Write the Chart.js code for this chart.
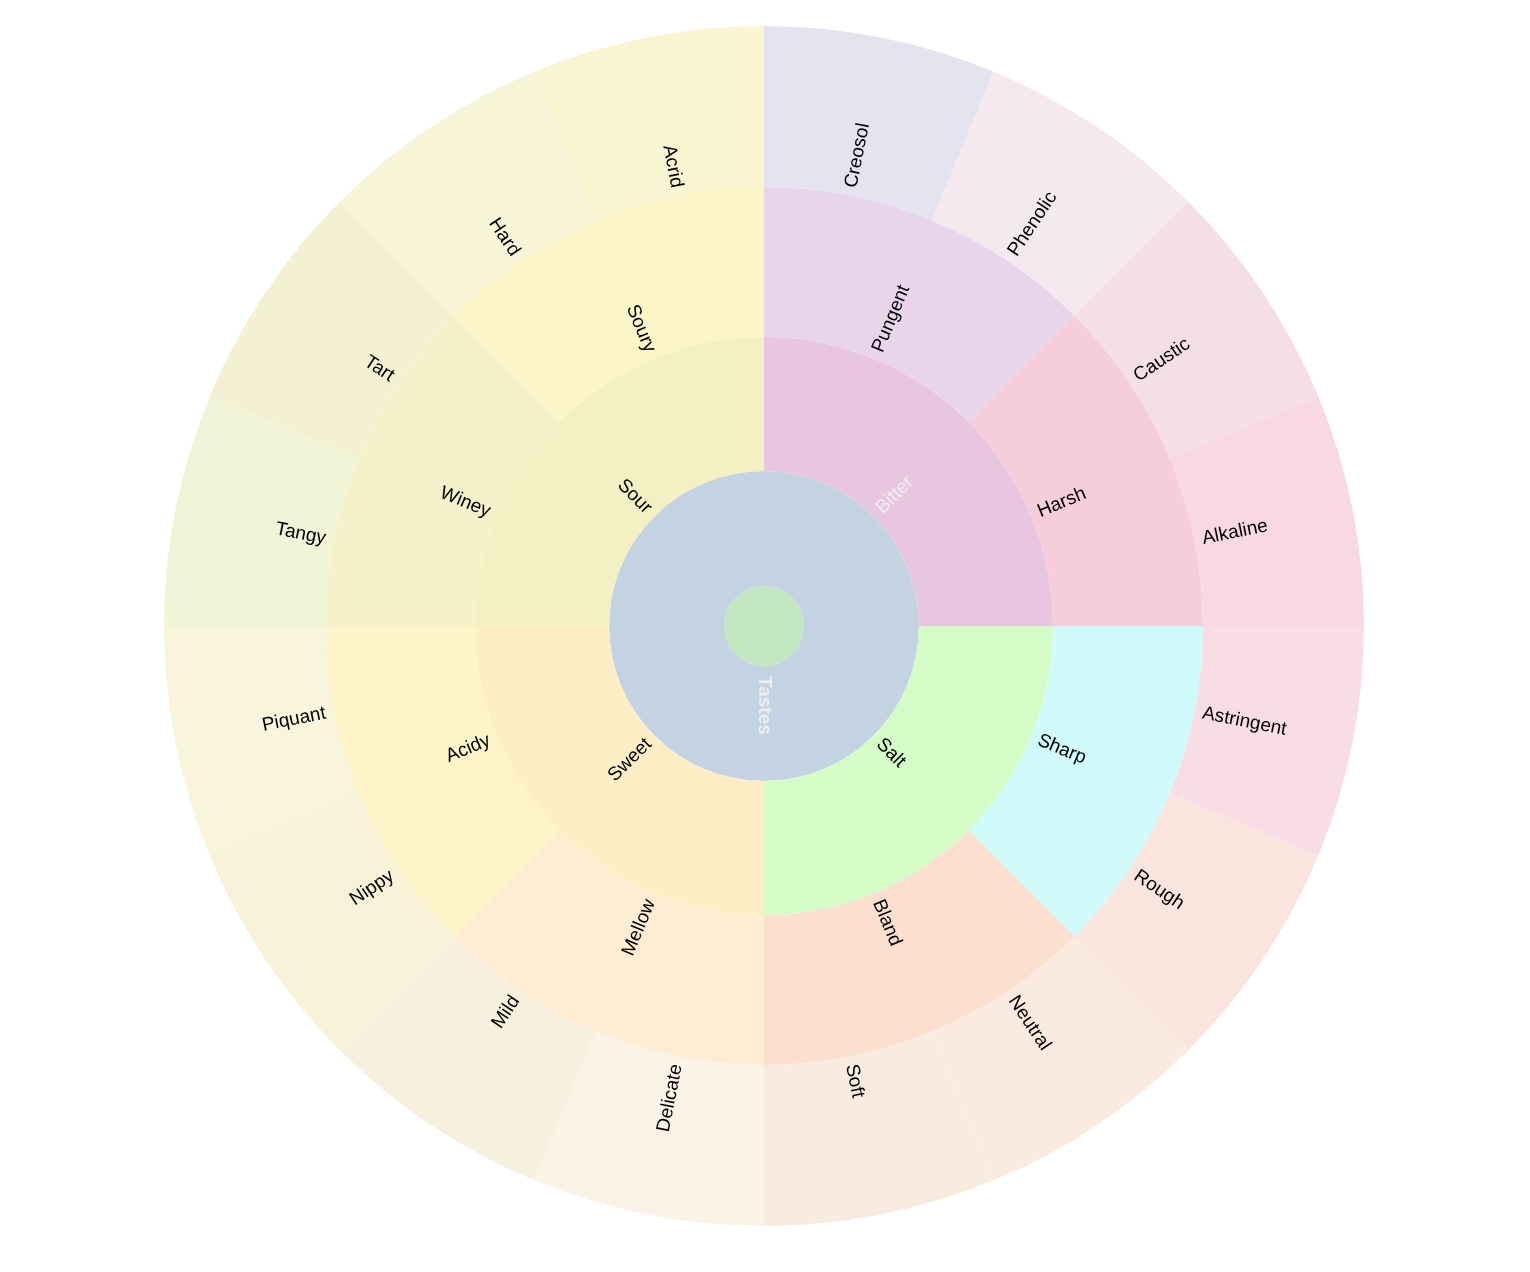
<!DOCTYPE html>
<html>
<head>
<meta charset="utf-8">
<script src="https://cdn.jsdelivr.net/npm/chart.js@4/dist/chart.umd.min.js"></script>
<style>
  html, body { margin: 0; padding: 0; background: #ffffff; }
  #wrap { width: 1530px; height: 1272px; }
</style>
</head>
<body>
<div id="wrap"><canvas id="c" width="1530" height="1272"></canvas></div>
<script>
// ---- data ----
const rootLabels = [""];
const rootValues = [16];
const level1Labels = ["Tastes"];
const level1Values = [16];
const level2Labels = ["Bitter", "Salt", "Sweet", "Sour"];
const level2Values = [4, 4, 4, 4];
const level3Labels = ["Pungent", "Harsh", "Sharp", "Bland", "Mellow", "Acidy", "Winey", "Soury"];
const level3Values = [2, 2, 2, 2, 2, 2, 2, 2];
const level4Labels = ["Creosol", "Phenolic", "Caustic", "Alkaline", "Astringent", "Rough", "Neutral", "Soft",
                      "Delicate", "Mild", "Nippy", "Piquant", "Tangy", "Tart", "Hard", "Acrid"];
const level4Values = [1, 1, 1, 1, 1, 1, 1, 1, 1, 1, 1, 1, 1, 1, 1, 1];

// ---- styles ----
const rootColors = ["#c2e6c0"];
const level1Colors = ["#c4d3e2"];
const level2Colors = ["#e9c6df", "#d5fcc6", "#fdeec6", "#f3f1c4"];
const level3Colors = ["#e8d5ec", "#f6cedb", "#d0fbfa", "#fbe0d0", "#feedd3", "#fdf4ca", "#f5f1ca", "#fcf5c8"];
const level4Colors = ["#e6e3f0", "#f6e8ef", "#f5dfe6", "#f8d9e2", "#f9dde4", "#f9e4de", "#fbeadf", "#f8ecdf",
                      "#fcf3e7", "#f8f0df", "#f7f2d8", "#f8f5dc", "#f2f4d8", "#f4f1d3", "#f8f4d8", "#faf5d0"];
const lightTextLabels = ["Tastes", "Bitter"];
const boldTextLabels = ["Tastes"];

const labelPlugin = {
  id: 'radialLabels',
  afterDatasetsDraw(chart) {
    const ctx = chart.ctx;
    ctx.save();
    ctx.textBaseline = 'middle';
    ctx.textAlign = 'center';
    chart.data.datasets.forEach((ds, di) => {
      const meta = chart.getDatasetMeta(di);
      meta.data.forEach((arc, i) => {
        const text = ds.labels[i];
        if (!text) return;
        ctx.font = (boldTextLabels.includes(text) ? 'bold ' : '') + '19px "Liberation Sans", Arial, Helvetica, sans-serif';
        const p = arc.getProps(['x', 'y', 'startAngle', 'endAngle', 'innerRadius', 'outerRadius'], true);
        const mid = (p.startAngle + p.endAngle) / 2;
        const pad = di === 3 ? 10 : 8;
        const w = ctx.measureText(text).width;
        const rc = p.innerRadius + pad + w / 2;
        ctx.save();
        ctx.translate(p.x, p.y);
        ctx.rotate(mid);
        ctx.translate(rc, 0);
        if (Math.cos(mid) < -1e-6) ctx.rotate(Math.PI);
        ctx.fillStyle = lightTextLabels.includes(text) ? '#eeeeee' : '#000000';
        ctx.fillText(text, 0, 0);
        ctx.restore();
      });
    });
    ctx.restore();
  }
};

const mk = (labels, values, colors, weight) => ({
  labels: labels,
  data: values,
  backgroundColor: colors,
  borderWidth: 0,
  hoverOffset: 0,
  offset: 0,
  weight: weight
});

new Chart(document.getElementById('c'), {
  type: 'doughnut',
  data: {
    labels: level4Labels,
    datasets: [
      mk(level4Labels, level4Values, level4Colors, 161),
      mk(level3Labels, level3Values, level3Colors, 150),
      mk(level2Labels, level2Values, level2Colors, 134),
      mk(level1Labels, level1Values, level1Colors, 115),
      mk(rootLabels, rootValues, rootColors, 40)
    ]
  },
  options: {
    responsive: false,
    animation: false,
    events: [],
    cutout: 0,
    spacing: 0,
    layout: { padding: { top: 26, bottom: 46, left: 0, right: 2 } },
    plugins: {
      legend: { display: false },
      tooltip: { enabled: false },
      title: { display: false }
    }
  },
  plugins: [labelPlugin]
});
</script>
</body>
</html>
